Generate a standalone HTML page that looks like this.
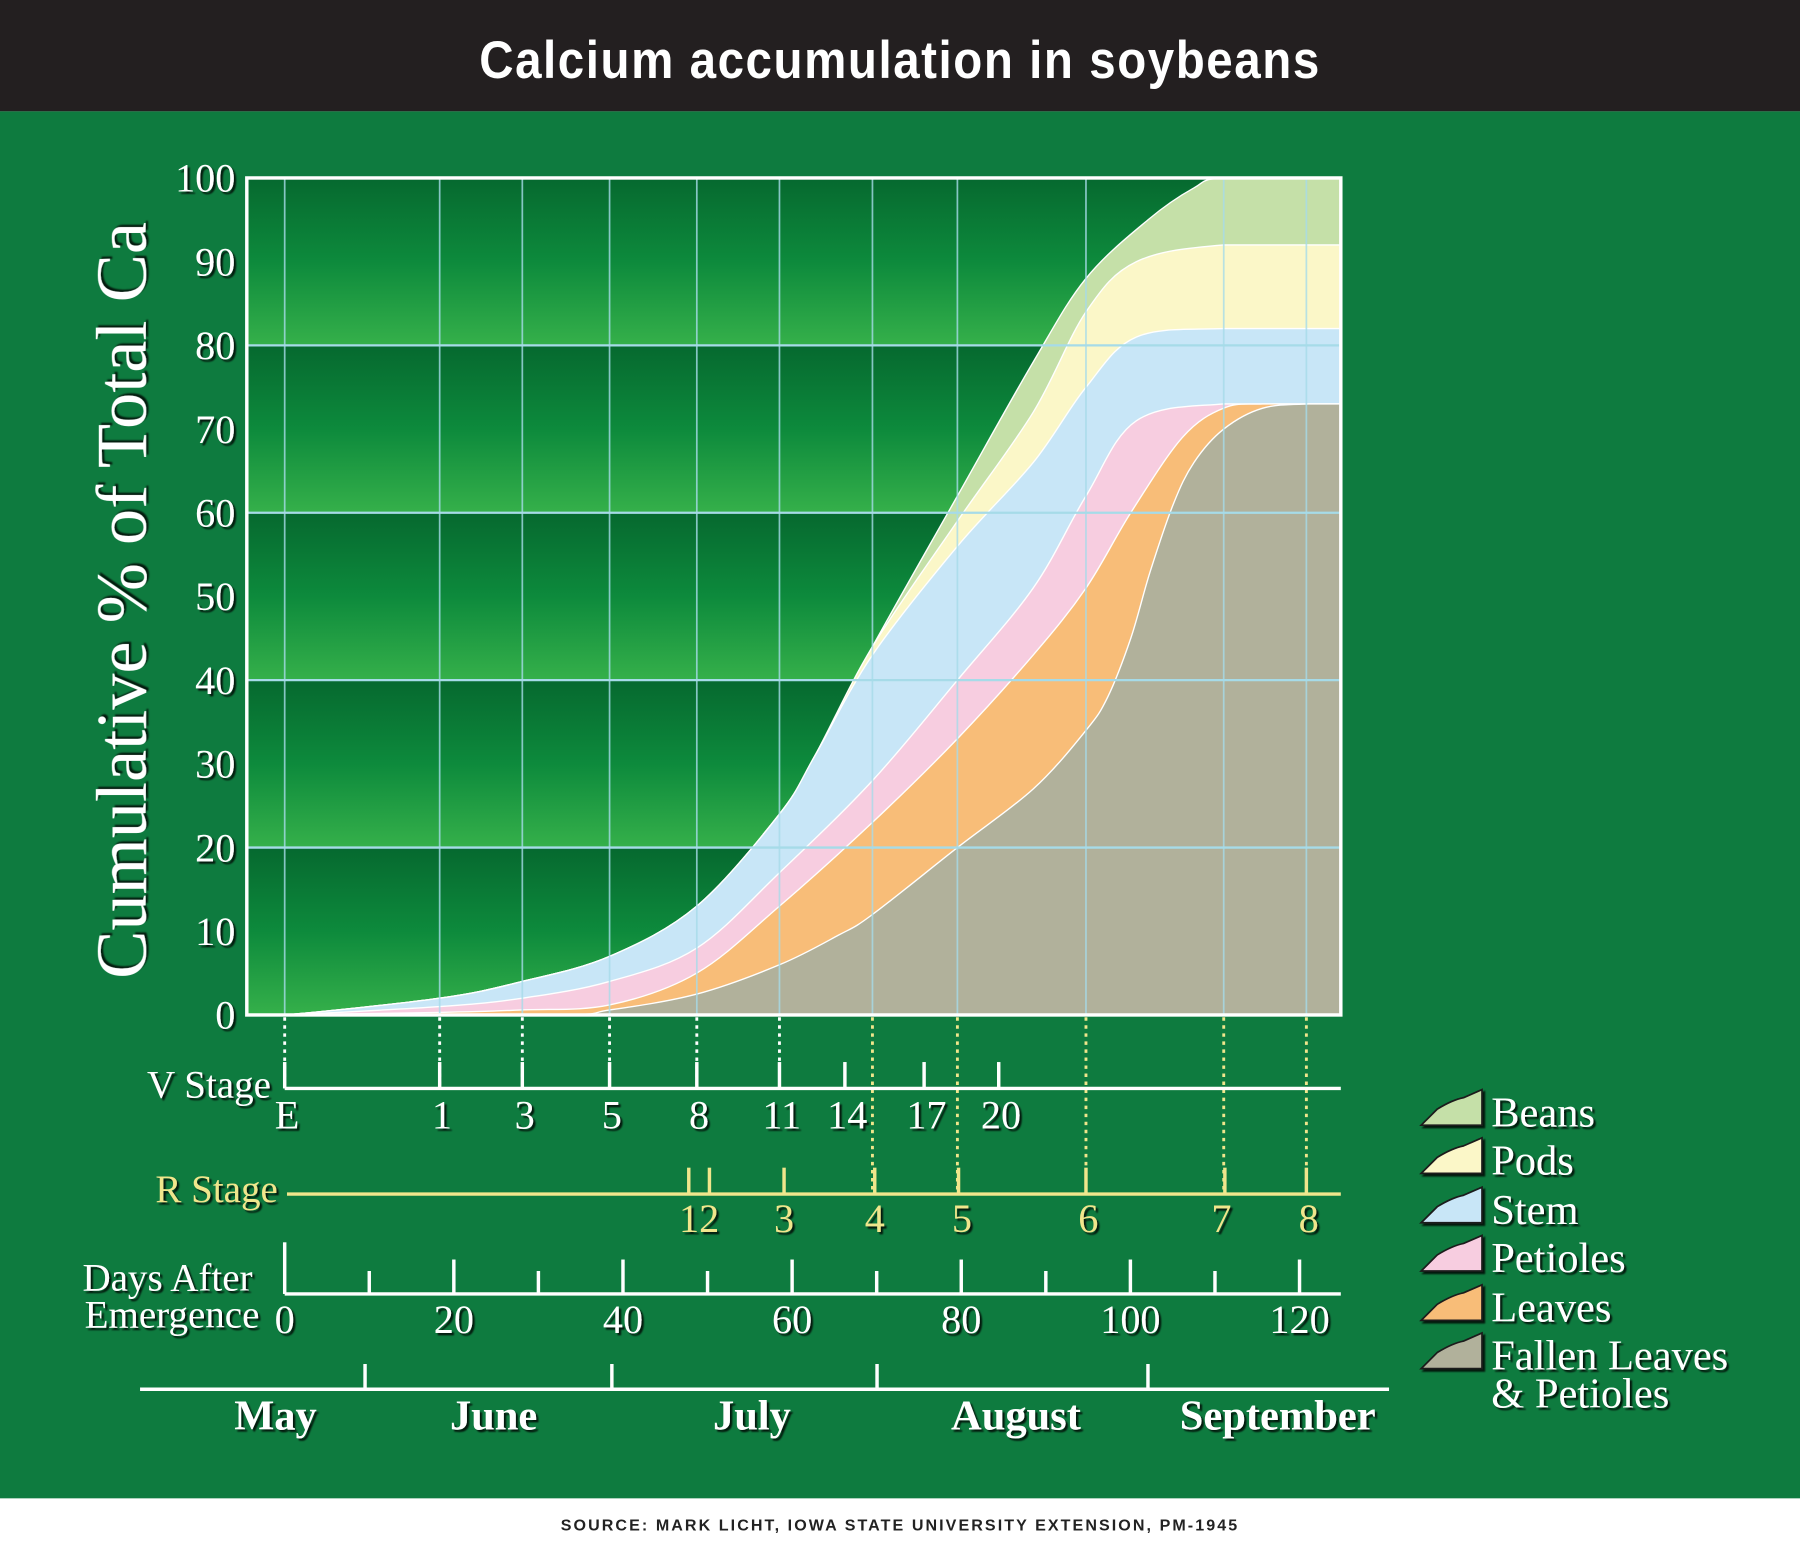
<!DOCTYPE html>
<html><head><meta charset="utf-8"><style>
html,body{margin:0;padding:0;background:#fff;}
svg{display:block}
.s{font-family:"Liberation Serif",serif;fill:#fff;}
.sh{filter:url(#ds);}
</style></head><body>
<svg id="c" width="1800" height="1550" viewBox="0 0 1568 1350" preserveAspectRatio="none" xmlns="http://www.w3.org/2000/svg">
<defs>
<filter id="ds" x="-10%" y="-10%" width="130%" height="130%"><feDropShadow dx="2" dy="2" stdDeviation="0.8" flood-color="#000" flood-opacity="0.8"/></filter>
<linearGradient id="band" x1="0" y1="0" x2="0" y2="1"><stop offset="0" stop-color="#06692f"/><stop offset="0.5" stop-color="#0d8a3c"/><stop offset="1" stop-color="#35b04a"/></linearGradient>
</defs>
<rect x="0" y="0" width="1568" height="1350" fill="#fff"/>
<rect x="0" y="0" width="1568" height="97" fill="#231f20"/>
<text x="784" y="68" text-anchor="middle" font-family="Liberation Sans,sans-serif" font-weight="bold" font-size="46" fill="#fff" transform="translate(784 0) scale(0.9 1) translate(-784 0)" letter-spacing="1.5">Calcium accumulation in soybeans</text>
<rect x="0" y="97" width="1568" height="1208" fill="#0e7b3f"/>
<text x="784" y="1333" text-anchor="middle" font-family="Liberation Sans,sans-serif" font-weight="bold" font-size="14" letter-spacing="1.8" fill="#222">SOURCE: MARK LICHT, IOWA STATE UNIVERSITY EXTENSION, PM-1945</text>
<g id="bands"></g>
<g id="areas"></g>
<g id="grid"></g>
<rect x="215" y="155" width="953" height="729" fill="none" stroke="#fff" stroke-width="3"/>
<g id="axes"></g>
<text class="s sh" font-size="63" transform="translate(127 523) rotate(-90)" text-anchor="middle">Cumulative % of Total Ca</text>
</svg>
<script>
var NS="http://www.w3.org/2000/svg",svg=document.getElementById('c');
function el(p,t,a,txt){var e=document.createElementNS(NS,t);for(var k in a)e.setAttribute(k,a[k]);if(txt!==undefined)e.textContent=txt;document.getElementById(p)?document.getElementById(p).appendChild(e):svg.appendChild(e);return e;}
function Y(v){return 884-v*7.29;}
for(var i=0;i<5;i++)el('bands','rect',{x:215,y:Y(20*(i+1)),width:953,height:145.8,fill:'url(#band)'});
function path(pts){var P=pts.map(function(p){return [p[0],Y(p[1])];});var d='M'+P[0][0]+','+P[0][1];
for(var i=0;i<P.length-1;i++){var p0=P[i-1]||P[i],p1=P[i],p2=P[i+1],p3=P[i+2]||P[i+1];
var c1x=p1[0]+(p2[0]-p0[0])/6,c1y=p1[1]+(p2[1]-p0[1])/6,c2x=p2[0]-(p3[0]-p1[0])/6,c2y=p2[1]-(p3[1]-p1[1])/6;
if(p1[1]==p2[1]){c1y=p1[1];c2y=p2[1];}
d+=' C'+c1x.toFixed(1)+','+c1y.toFixed(1)+' '+c2x.toFixed(1)+','+c2y.toFixed(1)+' '+p2[0]+','+p2[1].toFixed(1);}
return d+' L1168,884 L215,884 Z';}
var S=[
['#c5e0a8',[[215,0],[248,0],[383,2],[455,4],[531,7],[607,13],[679,24],[710,31],[760,44],[834,62],[900,78],[946,88],[1000,95],[1040,98.8],[1066,100],[1168,100]]],
['#fbf7c8',[[215,0],[248,0],[383,2],[455,4],[531,7],[607,13],[679,24],[710,31],[760,44],[834,59],[900,72],[946,84],[990,90],[1066,92],[1168,92]]],
['#c8e6f7',[[215,0],[248,0],[383,2],[455,4],[531,7],[607,13],[679,24],[710,31],[760,43],[834,56],[900,66],[946,75],[990,81],[1066,82],[1168,82]]],
['#f7cde0',[[215,0],[248,0],[383,1],[455,2],[531,4],[607,8],[679,17],[760,28],[834,40],[900,51],[946,62],[990,71],[1066,73],[1168,73]]],
['#f8bd78',[[215,0],[248,0],[383,0.3],[455,0.6],[531,1.2],[607,5],[679,13],[760,23],[834,33],[900,43],[946,51],[985,60],[1030,69],[1066,72.5],[1100,73],[1168,73]]],
['#b1b19b',[[215,0],[480,0],[531,0.6],[607,2.5],[679,6],[730,9.5],[760,12],[834,20],[900,27],[946,34],[965,38],[985,45],[1002,53],[1022,61],[1040,66],[1066,70],[1100,72.5],[1140,73],[1168,73]]]];
S.forEach(function(s){el('areas','path',{d:path(s[1]),fill:s[0],stroke:'#fff','stroke-width':1.2});});
[20,40,60,80].forEach(function(v){el('grid','line',{x1:215,x2:1168,y1:Y(v),y2:Y(v),stroke:'#a6dbe8','stroke-width':2});});
[248,383,455,531,607,679,760,834,946,1066,1138].forEach(function(x){el('grid','line',{x1:x,x2:x,y1:155,y2:884,stroke:'#a6dbe8','stroke-width':1.5,'stroke-opacity':0.8});});
function t(x,y,s,sz,anc,fill){var e=el('axes','text',{x:x,y:y,'font-size':sz,'text-anchor':anc||'middle','class':'s sh'},s);if(fill)e.setAttribute('style','fill:'+fill);return e;}
for(var v=0;v<=100;v+=10)t(205,Y(v)+12,String(v),35,'end');
[248,383,455,531,607,679].forEach(function(x){el('axes','line',{x1:x,x2:x,y1:886,y2:946,stroke:'#fff','stroke-width':2.5,'stroke-dasharray':'3,4'});});
[760,834,946,1066,1138].forEach(function(x){el('axes','line',{x1:x,x2:x,y1:886,y2:1038,stroke:'#f0e68c','stroke-width':2.5,'stroke-dasharray':'3,4'});});
el('axes','line',{x1:248,x2:1168,y1:948,y2:948,stroke:'#fff','stroke-width':3});
[[248,'E'],[383,'1'],[455,'3'],[531,'5'],[607,'8'],[679,'11'],[736,'14'],[805,'17'],[870,'20']].forEach(function(p){el('axes','line',{x1:p[0],x2:p[0],y1:925,y2:948,stroke:'#fff','stroke-width':3});t(p[0]+2,983,p[1],35);});
t(236,956,'V Stage',34,'end');
el('axes','line',{x1:250,x2:1168,y1:1040,y2:1040,stroke:'#f0e68c','stroke-width':3});
[600,618,683,762,835,946,1067,1138].forEach(function(x){el('axes','line',{x1:x,x2:x,y1:1017,y2:1040,stroke:'#f0e68c','stroke-width':3});});
[[609,'12'],[683,'3'],[762,'4'],[838,'5'],[948,'6'],[1064,'7'],[1140,'8']].forEach(function(p){t(p[0],1073,p[1],35,'middle','#f0e68c');});
t(242,1047,'R Stage',34,'end','#f0e68c');
el('axes','line',{x1:248,x2:1168,y1:1127,y2:1127,stroke:'#fff','stroke-width':3});
el('axes','line',{x1:248,x2:248,y1:1082,y2:1127,stroke:'#fff','stroke-width':3});
for(var d=10;d<=120;d+=10){var x=248+d*7.367;el('axes','line',{x1:x,x2:x,y1:(d%20==0)?1097:1107,y2:1127,stroke:'#fff','stroke-width':3});}
for(var d=0;d<=120;d+=20)t(248+d*7.367,1161,String(d),35);
t(220,1124,'Days After',34,'end');t(226,1156,'Emergence',34,'end');
el('axes','line',{x1:122,x2:1210,y1:1210,y2:1210,stroke:'#fff','stroke-width':3});
[318,533,764,1000].forEach(function(x){el('axes','line',{x1:x,x2:x,y1:1188,y2:1210,stroke:'#fff','stroke-width':3});});
[[240,'May'],[430,'June'],[655,'July'],[885,'August'],[1113,'September']].forEach(function(p){var e=t(p[0],1245,p[1],37);e.setAttribute('font-weight','bold');});
var L=[['#c5e0a8','Beans',968],['#fbf7c8','Pods',1010],['#c8e6f7','Stem',1053],['#f7cde0','Petioles',1095],['#f8bd78','Leaves',1138],['#b1b19b','Fallen Leaves',1180]];
L.forEach(function(l){var y=l[2];el('axes','path',{d:'M1238,'+(y+12)+' L1252,'+(y-2)+' Q1265,'+(y-10)+' 1275,'+(y-12)+' L1291,'+(y-19)+' L1291,'+(y+12)+' Z',fill:l[0],stroke:'#1a1a1a','stroke-width':1.5,filter:'url(#ds)'});
t(1299,y+13,l[1],37,'start');});
t(1299,1226,'& Petioles',37,'start');
</script>
</body></html>
